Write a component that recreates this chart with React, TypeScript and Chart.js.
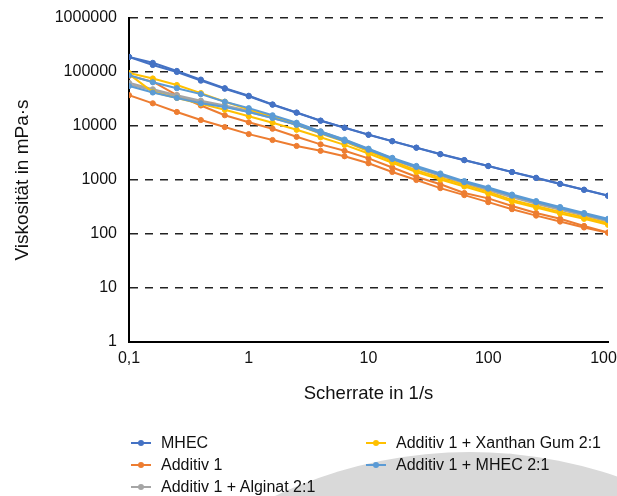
import React, { useEffect, useRef } from "react";
import { Chart, registerables } from "chart.js";

Chart.register(...registerables);

// Scherrate (1/s)
const shearRates = [0.1, 0.158, 0.251, 0.398, 0.631, 1, 1.58, 2.51, 3.98, 6.31, 10, 15.8, 25.1, 39.8, 63.1, 100, 158, 251, 398, 631, 1000];

// Viskosität (mPa·s), two sweeps per sample
const mhecUp = [190500, 147900, 104700, 72400, 50100, 36300, 25100, 17800, 12600, 9330, 6920, 5250, 3980, 3020, 2340, 1820, 1410, 1100, 851, 661, 513];
const mhecDown = [190500, 134900, 100000, 69200, 49000, 35500, 24800, 17600, 12500, 9250, 6870, 5210, 3960, 3000, 2330, 1810, 1400, 1090, 845, 658, 510];
const additivUp = [85100, 66100, 37200, 24000, 15800, 11700, 8910, 6310, 4570, 3470, 2510, 1700, 1150, 832, 575, 457, 331, 245, 191, 141, 107];
const additivDown = [37200, 26300, 18200, 12900, 9550, 7080, 5500, 4270, 3470, 2750, 2040, 1410, 1000, 708, 525, 389, 288, 219, 170, 132, 105];
const alginatUp = [63100, 47900, 37200, 29500, 24000, 19100, 14800, 11000, 7940, 5500, 3720, 2510, 1740, 1260, 912, 676, 501, 380, 295, 229, 178];
const alginatDown = [58900, 45700, 35500, 28200, 22900, 18200, 14100, 10500, 7590, 5250, 3550, 2400, 1660, 1200, 871, 646, 479, 363, 282, 219, 170];
const xanthanUp = [95500, 75900, 57500, 40700, 28200, 20400, 14800, 10500, 7240, 5130, 3390, 2240, 1510, 1100, 813, 603, 427, 331, 257, 204, 158];
const xanthanDown = [91200, 42700, 33100, 25700, 20000, 15100, 11500, 8510, 6170, 4470, 3090, 2090, 1410, 1020, 759, 562, 398, 309, 240, 191, 148];
const mhec21Up = [87100, 64600, 50100, 38900, 28200, 21400, 15800, 11500, 7940, 5620, 3800, 2570, 1820, 1320, 955, 724, 537, 407, 316, 245, 191];
const mhec21Down = [55000, 41700, 33100, 26300, 22400, 18200, 14100, 10500, 7410, 5250, 3630, 2450, 1740, 1260, 912, 692, 513, 389, 302, 234, 182];

const seriesNames = ["MHEC", "Additiv 1", "Additiv 1 + Alginat 2:1", "Additiv 1 + Xanthan Gum 2:1", "Additiv 1 + MHEC 2:1"];
const seriesColors = ["#4472C4", "#ED7D31", "#A5A5A5", "#FFC000", "#5B9BD5"];
const seriesSweeps = [
  [mhecUp, mhecDown],
  [additivUp, additivDown],
  [alginatUp, alginatDown],
  [xanthanUp, xanthanDown],
  [mhec21Up, mhec21Down],
];

const xTicks = [0.1, 1, 10, 100, 1000];
const xTickLabels = ["0,1", "1", "10", "100", "1000"];
const yTicks = [1, 10, 100, 1000, 10000, 100000, 1000000];
const yTickLabels = ["1", "10", "100", "1000", "10000", "100000", "1000000"];

const xTitle = "Scherrate in 1/s";
const yTitle = "Viskosität in mPa·s";

const FONT = "'Liberation Sans', Arial, sans-serif";

export default function App() {
  const canvasRef = useRef<HTMLCanvasElement | null>(null);

  useEffect(() => {
    const canvas = canvasRef.current;
    if (!canvas) return;
    const datasets: any[] = [];
    let n = 0;
    seriesSweeps.forEach((sweeps, si) => {
      sweeps.forEach((vals, k) => {
        datasets.push({
          label: k === 0 ? seriesNames[si] : seriesNames[si] + " (2)",
          data: shearRates.map((x, i) => ({ x, y: vals[i] })),
          borderColor: seriesColors[si],
          backgroundColor: seriesColors[si],
          pointBackgroundColor: seriesColors[si],
          pointBorderColor: seriesColors[si],
          borderWidth: 2,
          pointRadius: 2.6,
          pointBorderWidth: 1,
          tension: 0,
          fill: false,
          order: 20 - n,
        });
        n++;
      });
    });

    const chart = new Chart(canvas, {
      type: "line",
      data: { datasets },
      options: {
        animation: false,
        responsive: false,
        maintainAspectRatio: false,
        devicePixelRatio: 1,
        layout: { padding: { left: 0, right: 9, top: 18, bottom: 84 } },
        plugins: {
          legend: { display: false },
          tooltip: { enabled: false },
        },
        scales: {
          x: {
            type: "logarithmic",
            min: 0.1,
            max: 1000,
            afterBuildTicks: (s: any) => {
              s.ticks = xTicks.map((v) => ({ value: v }));
            },
            afterFit: (s: any) => {
              s.height = 70;
              s.paddingLeft = 0;
              s.paddingRight = 0;
            },
            ticks: {
              autoSkip: false,
              maxRotation: 0,
              padding: 7,
              color: "#111",
              font: { family: FONT, size: 16 },
              callback: (_v: any, i: number) => xTickLabels[i],
            },
            grid: { display: false, drawTicks: false },
            border: { display: true, color: "#000", width: 2 },
            title: {
              display: true,
              text: xTitle,
              color: "#111",
              font: { family: FONT, size: 18.5 },
              padding: { top: 0, bottom: 7 },
            },
          },
          y: {
            type: "logarithmic",
            min: 1,
            max: 1000000,
            afterBuildTicks: (s: any) => {
              s.ticks = yTicks.map((v) => ({ value: v }));
            },
            afterFit: (s: any) => {
              s.width = 129;
              s.paddingTop = 0;
              s.paddingBottom = 0;
            },
            ticks: {
              autoSkip: false,
              padding: 12,
              color: "#111",
              font: { family: FONT, size: 16 },
              callback: (_v: any, i: number) => yTickLabels[i],
            },
            grid: { display: true, color: "#222", lineWidth: 1.5, drawTicks: false },
            border: { display: true, color: "#000", width: 2, dash: [8, 7] },
            title: {
              display: true,
              text: yTitle,
              color: "#111",
              font: { family: FONT, size: 19 },
              padding: { top: 11, bottom: 0 },
            },
          },
        },
      },
    });
    return () => chart.destroy();
  }, []);

  const legendRows = [
    { si: 0, x: 130, y: 443 },
    { si: 1, x: 130, y: 465 },
    { si: 2, x: 130, y: 487 },
    { si: 3, x: 365, y: 443 },
    { si: 4, x: 365, y: 465 },
  ];

  return (
    <div style={{ position: "fixed", left: 0, top: 0, width: 617, height: 496, overflow: "hidden", background: "#fff" }}>
      <div
        style={{
          position: "absolute",
          left: 470 - 454,
          top: 452,
          width: 908,
          height: 908,
          borderRadius: "50%",
          background: "#d9d9d9",
        }}
      />
      <canvas ref={canvasRef} width={617} height={496} style={{ position: "absolute", left: 0, top: 0, width: 617, height: 496 }} />
      {legendRows.map((r) => (
        <div
          key={r.si}
          style={{ position: "absolute", left: r.x, top: r.y - 12, height: 24, display: "flex", alignItems: "center", whiteSpace: "nowrap" }}
        >
          <svg width={22} height={10} style={{ display: "block" }}>
            <line x1={1} y1={5} x2={21} y2={5} stroke={seriesColors[r.si]} strokeWidth={2} />
            <circle cx={11} cy={5} r={3} fill={seriesColors[r.si]} />
          </svg>
          <span style={{ marginLeft: 9, fontFamily: FONT, fontSize: 16, color: "#111", lineHeight: "24px" }}>{seriesNames[r.si]}</span>
        </div>
      ))}
    </div>
  );
}
